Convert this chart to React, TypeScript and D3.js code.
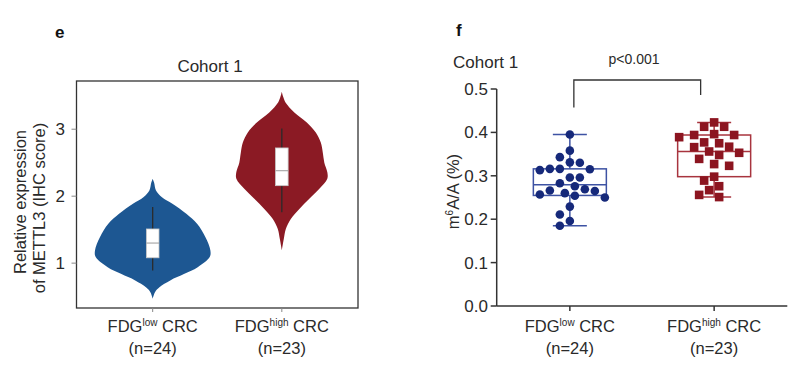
import React from 'react';
import * as d3 from 'd3';

const W = 800;
const H = 377;

const categories = ['low', 'high'];
const groupN = [24, 23];

// Panel e: violin density profiles (value, relative half-width)
const violinLowValues = [2.26, 2.2, 2.085, 1.985, 1.887, 1.737, 1.588, 1.388, 1.19, 1.09, 0.94, 0.84, 0.742, 0.64, 0.567, 0.47];
const violinLowDensity = [0, 0.025, 0.057, 0.16, 0.34, 0.58, 0.765, 0.91, 0.995, 0.983, 0.776, 0.547, 0.302, 0.116, 0.04, 0];
const violinHighValues = [3.56, 3.48, 3.4, 3.25, 3.1, 2.95, 2.8, 2.65, 2.5, 2.36, 2.26, 2.11, 1.96, 1.81, 1.66, 1.51, 1.36, 1.19];
const violinHighDensity = [0, 0.025, 0.064, 0.216, 0.431, 0.586, 0.672, 0.707, 0.733, 0.784, 0.784, 0.647, 0.474, 0.302, 0.155, 0.069, 0.034, 0];
// box stats: whisker low, q1, median, q3, whisker high
const ihcBoxLow = [0.89, 1.08, 1.3, 1.51, 1.84];
const ihcBoxHigh = [1.76, 2.157, 2.38, 2.72, 3.01];
const leftTicks = [1, 2, 3];

// Panel f: m6A/A values
const m6aLow = [0.395, 0.358, 0.343, 0.33, 0.331, 0.316, 0.313, 0.315, 0.316, 0.296, 0.296, 0.283, 0.276, 0.269, 0.266, 0.257, 0.25, 0.254, 0.26, 0.265, 0.229, 0.211, 0.196, 0.185];
const m6aHigh = [0.423, 0.413, 0.413, 0.394, 0.389, 0.394, 0.396, 0.375, 0.377, 0.366, 0.367, 0.356, 0.348, 0.353, 0.339, 0.323, 0.327, 0.298, 0.289, 0.267, 0.276, 0.256, 0.251];
const rightTicks = [0, 0.1, 0.2, 0.3, 0.4, 0.5];

const FONT = 'Liberation Sans, Arial, Helvetica, sans-serif';
const TXT = '#2a2a2a';
const BLUE_V = '#1d5792';
const RED_V = '#8b1a24';
const BLUE_P = '#16297a';
const BLUE_B = '#3d52a3';
const RED_P = '#8c1520';
const RED_B = '#a8343e';

// GraphPad-style percentile: rank = (n+1)p, linear interpolation
function pctl(sorted: number[], p: number) {
  const n = sorted.length;
  const r = Math.min(Math.max((n + 1) * p, 1), n);
  const lo = Math.floor(r);
  const hi = Math.ceil(r);
  return sorted[lo - 1] + (r - lo) * (sorted[hi - 1] - sorted[lo - 1]);
}

function swarm(values: number[], y: (v: number) => number, cx: number, minDist: number, step: number) {
  const placed: { x: number; y: number }[] = [];
  const out: { x: number; y: number }[] = new Array(values.length);
  const order = values.map((_, i) => i).sort((a, b) => values[b] - values[a]);
  for (const i of order) {
    const py = y(values[i]);
    let px = cx;
    for (let s = 0; s < 400; s++) {
      const k = Math.ceil(s / 2);
      const off = s === 0 ? 0 : (s % 2 === 1 ? -k : k) * step;
      const cand = cx + off;
      if (placed.every((p) => (p.x - cand) ** 2 + (p.y - py) ** 2 >= minDist * minDist)) {
        px = cand;
        break;
      }
    }
    placed.push({ x: px, y: py });
    out[i] = { x: px, y: py };
  }
  return out;
}

function CatLabel({ x, sup, n }: { x: number; sup: string; n: number }) {
  return (
    <g>
      <text x={x} y={332} textAnchor="middle" fontSize={16.5} fill={TXT} fontFamily={FONT}>
        FDG<tspan fontSize={10} dy={-6}>{sup}</tspan>
        <tspan dy={6}> CRC</tspan>
      </text>
      <text x={x} y={354} textAnchor="middle" fontSize={16.5} fill={TXT} fontFamily={FONT}>
        (n={n})
      </text>
    </g>
  );
}

export default function App() {
  // ---- Panel e ----
  const fL = { l: 76.5, r: 358, t: 81, b: 308 };
  const xL = d3.scalePoint<string>().domain(categories).range([fL.l, fL.r]).padding(0.59);
  const yL = d3.scaleLinear().domain([0.33, 3.72]).range([fL.b, fL.t]);
  const wScale = d3.scaleLinear().domain([0, 1]).range([0, 58]);

  const violinPath = (vals: number[], dens: number[], cx: number) => {
    const pts = vals.map((v, i) => ({ v, d: dens[i] }));
    return d3
      .area<{ v: number; d: number }>()
      .y((d) => yL(d.v))
      .x0((d) => cx - wScale(d.d))
      .x1((d) => cx + wScale(d.d))
      .curve(d3.curveCatmullRom.alpha(0.5))(pts) as string;
  };

  const violins = [
    { vals: violinLowValues, dens: violinLowDensity, box: ihcBoxLow, color: BLUE_V, cat: categories[0] },
    { vals: violinHighValues, dens: violinHighDensity, box: ihcBoxHigh, color: RED_V, cat: categories[1] },
  ];

  // ---- Panel f ----
  const fR = { l: 496.7, r: 787.3, t: 89, b: 306 };
  const xR = d3.scalePoint<string>().domain(categories).range([fR.l, fR.r]).padding(0.507);
  const yR = d3.scaleLinear().domain([0, 0.5]).range([fR.b, fR.t]);

  const groups = [
    { vals: m6aLow, cat: categories[0], pc: BLUE_P, bc: BLUE_B, shape: 'circle', md: 9.3 },
    { vals: m6aHigh, cat: categories[1], pc: RED_P, bc: RED_B, shape: 'square', md: 10.3 },
  ];

  return (
    <svg width={W} height={H} style={{ position: 'absolute', left: 0, top: 0, background: '#fff' }} fontFamily={FONT}>
      <rect x={0} y={0} width={W} height={H} fill="#fff" />
      {/* Panel letters */}
      <text x={55} y={38} fontSize={17} fontWeight="bold" fill="#111">e</text>
      <text x={456} y={36} fontSize={17} fontWeight="bold" fill="#111">f</text>

      {/* ===== Panel e ===== */}
      <text x={210} y={72} textAnchor="middle" fontSize={17} fill={TXT}>Cohort 1</text>
      {violins.map((v, i) => {
        const cx = xL(v.cat) as number;
        const [wl, q1, md, q3, wh] = v.box;
        return (
          <g key={i}>
            <path d={violinPath(v.vals, v.dens, cx)} fill={v.color} stroke="none" />
            <line x1={cx} x2={cx} y1={yL(wh)} y2={yL(wl)} stroke="#2b2b2b" strokeWidth={1.3} />
            <rect x={cx - 6.3} y={yL(q3)} width={12.6} height={yL(q1) - yL(q3)} fill="#fff" stroke="#c8c8c8" strokeWidth={0.8} />
            <line x1={cx - 6.3} x2={cx + 6.3} y1={yL(md)} y2={yL(md)} stroke="#9a9a9a" strokeWidth={1} />
          </g>
        );
      })}
      <rect x={fL.l} y={fL.t} width={fL.r - fL.l} height={fL.b - fL.t} fill="none" stroke="#333" strokeWidth={1.3} />
      {leftTicks.map((t) => (
        <g key={t}>
          <line x1={fL.l - 5} x2={fL.l} y1={yL(t)} y2={yL(t)} stroke="#888" strokeWidth={1} />
          <text x={65} y={yL(t) + 6} textAnchor="end" fontSize={17} fill={TXT}>{t}</text>
        </g>
      ))}
      {categories.map((c) => (
        <line key={c} x1={xL(c)} x2={xL(c)} y1={fL.b} y2={fL.b + 4} stroke="#888" strokeWidth={1} />
      ))}
      <text transform="translate(26,202) rotate(-90)" textAnchor="middle" fontSize={16.5} fill={TXT}>Relative expression</text>
      <text transform="translate(45,208) rotate(-90)" textAnchor="middle" fontSize={16.5} fill={TXT}>of METTL3 (IHC score)</text>
      {categories.map((c, i) => (
        <CatLabel key={c} x={xL(c) as number} sup={c} n={groupN[i]} />
      ))}

      {/* ===== Panel f ===== */}
      <text x={453} y={68} fontSize={17} fill={TXT}>Cohort 1</text>
      <text x={634} y={64} textAnchor="middle" fontSize={14} fill={TXT}>p&lt;0.001</text>
      <path
        d={`M${xR(categories[0])! + 4},107.5 V80 H${xR(categories[1])! - 13.5} V95`}
        fill="none"
        stroke="#333"
        strokeWidth={1.3}
      />
      {groups.map((g, gi) => {
        const cx = xR(g.cat) as number;
        const sorted = [...g.vals].sort(d3.ascending);
        const q1 = pctl(sorted, 0.25);
        const md = pctl(sorted, 0.5);
        const q3 = pctl(sorted, 0.75);
        const mn = sorted[0];
        const mx = sorted[sorted.length - 1];
        const pts = swarm(g.vals, (v) => yR(v), cx, g.md, 5);
        const bw = 36.5;
        const cap = 17;
        return (
          <g key={gi}>
            <g stroke={g.bc} strokeWidth={1.5} fill="none">
              <rect x={cx - bw} y={yR(q3)} width={bw * 2} height={yR(q1) - yR(q3)} />
              <line x1={cx - bw} x2={cx + bw} y1={yR(md)} y2={yR(md)} />
              <line x1={cx} x2={cx} y1={yR(q3)} y2={yR(mx)} />
              <line x1={cx} x2={cx} y1={yR(q1)} y2={yR(mn)} />
              <line x1={cx - cap} x2={cx + cap} y1={yR(mx)} y2={yR(mx)} />
              <line x1={cx - cap} x2={cx + cap} y1={yR(mn)} y2={yR(mn)} />
            </g>
            {pts.map((p, i) =>
              g.shape === 'circle' ? (
                <circle key={i} cx={p.x} cy={p.y} r={4.3} fill={g.pc} />
              ) : (
                <rect key={i} x={p.x - 4.3} y={p.y - 4.3} width={8.6} height={8.6} fill={g.pc} />
              )
            )}
          </g>
        );
      })}
      {/* axes */}
      <line x1={fR.l} x2={fR.l} y1={fR.t} y2={fR.b} stroke="#333" strokeWidth={1.5} />
      <line x1={fR.l} x2={fR.r} y1={fR.b} y2={fR.b} stroke="#333" strokeWidth={1.5} />
      {rightTicks.map((t) => (
        <g key={t}>
          <line x1={fR.l - 6} x2={fR.l} y1={yR(t)} y2={yR(t)} stroke="#333" strokeWidth={1.5} />
          <text x={488} y={yR(t) + 6} textAnchor="end" fontSize={17} fill={TXT}>{t.toFixed(1)}</text>
        </g>
      ))}
      {categories.map((c) => (
        <line key={c} x1={xR(c)} x2={xR(c)} y1={fR.b} y2={fR.b + 5} stroke="#333" strokeWidth={1.5} />
      ))}
      <text transform="translate(459,191.5) rotate(-90)" textAnchor="middle" fontSize={16.5} fill={TXT}>
        m<tspan fontSize={10} dy={-6}>6</tspan>
        <tspan dy={6}>A/A (%)</tspan>
      </text>
      {categories.map((c, i) => (
        <CatLabel key={c} x={xR(c) as number} sup={c} n={groupN[i]} />
      ))}
    </svg>
  );
}
